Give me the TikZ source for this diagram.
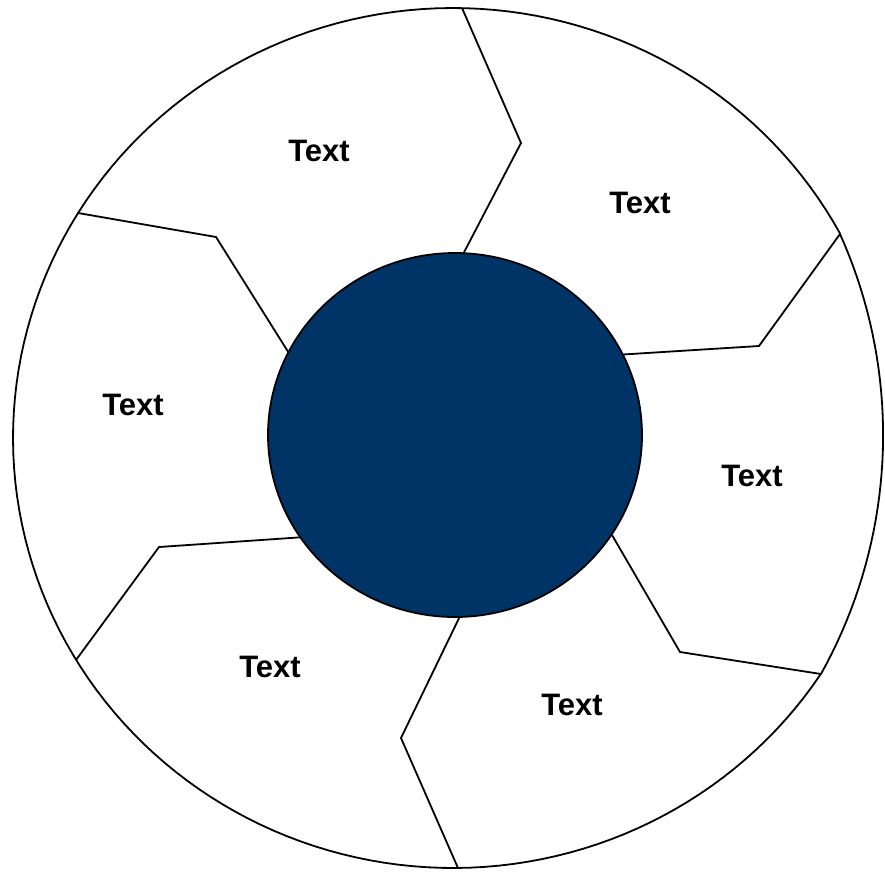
\documentclass[tikz,border=0pt]{standalone}
\usepackage{fontspec}
\setmainfont{Liberation Sans}
\usetikzlibrary{shapes.geometric}
\definecolor{navy}{RGB}{0,51,102}
\begin{document}
\begin{tikzpicture}[x=1pt,y=-1pt,
  ring/.style={draw=black,line width=1.8pt,line join=round},
  divider/.style={draw=black,line width=1.8pt,line join=miter},
  lbl/.style={font=\bfseries\fontsize{31}{36}\selectfont,inner sep=0pt}]
\useasboundingbox (0,0) rectangle (885,871);
\draw[ring,fill=white]
  plot[domain=33.3:331.7,samples=160,variable=\t] ({453+440*cos(\t)},{438+430*sin(\t)})
  -- plot[domain=-24.19:29.15,samples=40,variable=\t] ({392.5+490.6*cos(\t)},{435.07+490.6*sin(\t)})
  -- cycle;
% dividers
\draw[divider] (462,8) -- (521,143) -- (460,260);
\draw[divider] (840,234) -- (759,346) -- (615,355);
\draw[divider] (612,535) -- (680,652) -- (821,674);
\draw[divider] (458,868) -- (401,738) -- (462,612);
\draw[divider] (76,660) -- (159,547) -- (305,537);
\draw[divider] (78,213) -- (216,237) -- (292,358);
\node[ring,fill=navy,ellipse,minimum width=374pt,minimum height=364pt,inner sep=0pt] (hub) at (455,435) {};
\node[lbl] (t1) at (319,151) {Text};
\node[lbl] (t2) at (640,203) {Text};
\node[lbl] (t3) at (133,405) {Text};
\node[lbl] (t4) at (752,476) {Text};
\node[lbl] (t5) at (270,667) {Text};
\node[lbl] (t6) at (572,705) {Text};
\end{tikzpicture}
\end{document}
